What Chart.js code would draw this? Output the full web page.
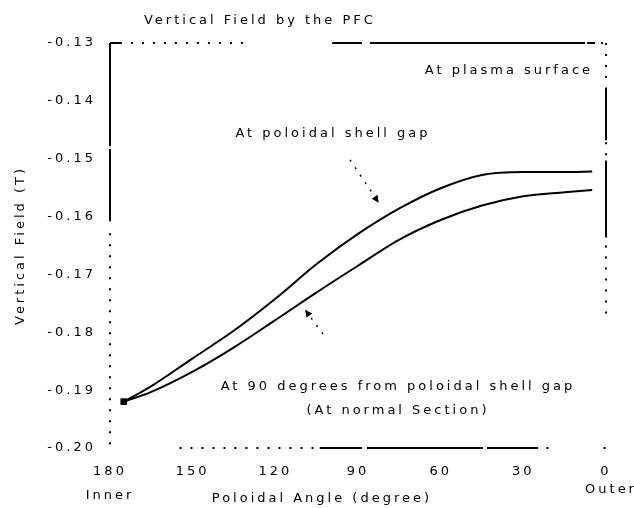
<!DOCTYPE html>
<html lang="en">
<head>
  <meta charset="UTF-8">
  <title>Vertical Field by the PFC</title>
  <script src="https://cdn.jsdelivr.net/npm/chart.js"></script>
  <style>
    html, body { margin: 0; padding: 0; background: #fff; }
    #wrap { width: 634px; height: 508px; }
  </style>
</head>
<body>
<div id="wrap"><canvas id="chart" width="634" height="508"></canvas></div>
<script>
// poloidal angle (degree), 180 = inner side, 0 = outer side
const angles = [175, 165, 150, 135, 120, 105, 90, 75, 60, 45, 30, 15, 5];
// vertical field (T) at the poloidal shell gap
const fieldShellGap = [-0.1920, -0.1893, -0.1845, -0.1797, -0.1742, -0.1682, -0.1630, -0.1586, -0.1551, -0.1528, -0.1523, -0.1523, -0.1522];
// vertical field (T) at 90 degrees from the gap (normal section)
const fieldNormal = [-0.1920, -0.1903, -0.1868, -0.1826, -0.1779, -0.1731, -0.1685, -0.1640, -0.1606, -0.1581, -0.1565, -0.1558, -0.1554];
const xTicks = [180, 150, 120, 90, 60, 30, 0];
const yTicks = [-0.20, -0.19, -0.18, -0.17, -0.16, -0.15, -0.14, -0.13];

const FONT = 'DejaVu Sans';
const SPACING = '3px';

// texts placed in axis units
const notes = [
  { text: 'Vertical Field by the PFC', x: 125.6, y: -0.1262, align: 'center', size: 13 },
  { text: 'At plasma surface', x: 4.7, y: -0.1347, align: 'right', size: 13 },
  { text: 'At poloidal shell gap', x: 99.1, y: -0.1457, align: 'center', size: 13 },
  { text: 'At 90 degrees from poloidal shell gap', x: 75.5, y: -0.1894, align: 'center', size: 13 },
  { text: '(At normal Section)', x: 75.5, y: -0.1936, align: 'center', size: 13 },
  { text: 'Inner', x: 180, y: -0.2083, align: 'center', size: 13 },
  { text: 'Outer', x: 7.6, y: -0.2072, align: 'left', size: 13 },
  { text: 'Poloidal Angle (degree)', x: 103.1, y: -0.2088, align: 'center', size: 13 }
];

const arrows = [
  { from: [92.9, -0.1502], to: [82.5, -0.1576] },
  { from: [102.7, -0.1803], to: [109.2, -0.1761] }
];

// frame pieces as fractions of each side, scanned look (solid / dotted)
const frame = {
  top:    [[0, 0.02, 's'], [0.02, 0.28, 'd'], [0.448, 0.508, 's'], [0.524, 0.958, 's'], [0.962, 0.978, 's'], [0.99, 1, 'd']],
  right:  [[0, 0.10, 'd'], [0.11, 0.24, 's'], [0.245, 0.28, 'd'], [0.29, 0.48, 's'], [0.50, 0.68, 'd']],
  bottom: [[0.14, 0.42, 'd'], [0.423, 0.508, 's'], [0.518, 0.752, 's'], [0.76, 0.863, 's'], [0.88, 0.89, 'd'], [0.995, 1, 'd']],
  left:   [[0, 0.255, 's'], [0.262, 0.44, 's'], [0.47, 1, 'd']]
};

const spacingPlugin = {
  id: 'spacing',
  beforeInit(c) { c.ctx.letterSpacing = SPACING; },
  beforeUpdate(c) { c.ctx.letterSpacing = SPACING; },
  beforeDraw(c) {
    const ctx = c.ctx;
    ctx.letterSpacing = SPACING;
    ctx.save();
    ctx.fillStyle = '#fff';
    ctx.fillRect(0, 0, c.width, c.height);
    ctx.restore();
  }
};

const decorPlugin = {
  id: 'decor',
  afterDatasetsDraw(c) {
    const ctx = c.ctx, a = c.chartArea, xs = c.scales.x, ys = c.scales.y;
    ctx.save();
    ctx.strokeStyle = '#000';
    ctx.lineWidth = 2;
    const seg = (x1, y1, x2, y2, kind) => {
      ctx.setLineDash(kind === 'd' ? [2, 9] : []);
      ctx.beginPath(); ctx.moveTo(x1, y1); ctx.lineTo(x2, y2); ctx.stroke();
    };
    const w = a.right - a.left, h = a.bottom - a.top;
    frame.top.forEach(([s, e, k]) => seg(a.left + s * w, a.top, a.left + e * w, a.top, k));
    frame.bottom.forEach(([s, e, k]) => seg(a.left + s * w, a.bottom, a.left + e * w, a.bottom, k));
    frame.left.forEach(([s, e, k]) => seg(a.left, a.top + s * h, a.left, a.top + e * h, k));
    frame.right.forEach(([s, e, k]) => seg(a.right, a.top + s * h, a.right, a.top + e * h, k));

    // arrows
    arrows.forEach(ar => {
      const x1 = xs.getPixelForValue(ar.from[0]), y1 = ys.getPixelForValue(ar.from[1]);
      const x2 = xs.getPixelForValue(ar.to[0]), y2 = ys.getPixelForValue(ar.to[1]);
      ctx.lineWidth = 1.5;
      ctx.setLineDash([2, 7]);
      ctx.beginPath(); ctx.moveTo(x1, y1); ctx.lineTo(x2, y2); ctx.stroke();
      ctx.setLineDash([]);
      const ang = Math.atan2(y2 - y1, x2 - x1), L = 8;
      ctx.fillStyle = '#000';
      ctx.beginPath();
      ctx.moveTo(x2, y2);
      ctx.lineTo(x2 - L * Math.cos(ang - 0.45), y2 - L * Math.sin(ang - 0.45));
      ctx.lineTo(x2 - L * Math.cos(ang + 0.45), y2 - L * Math.sin(ang + 0.45));
      ctx.closePath();
      ctx.fill();
    });

    // texts
    ctx.fillStyle = '#000';
    ctx.textBaseline = 'middle';
    ctx.letterSpacing = SPACING;
    notes.forEach(n => {
      ctx.font = n.size + 'px "' + FONT + '"';
      ctx.textAlign = n.align;
      ctx.fillText(n.text, xs.getPixelForValue(n.x), ys.getPixelForValue(n.y));
    });
    ctx.restore();
  }
};

const lineStyle = {
  borderColor: '#000',
  backgroundColor: '#000',
  borderWidth: 2,
  pointStyle: 'rect',
  pointRadius: ctx => ctx.dataIndex === 0 ? 3 : 0,
  cubicInterpolationMode: 'monotone',
  fill: false
};

new Chart(document.getElementById('chart').getContext('2d'), {
  type: 'line',
  data: {
    labels: angles,
    datasets: [
      Object.assign({ label: 'At poloidal shell gap', data: angles.map((a, i) => ({ x: a, y: fieldShellGap[i] })) }, lineStyle),
      Object.assign({ label: 'At 90 degrees from poloidal shell gap', data: angles.map((a, i) => ({ x: a, y: fieldNormal[i] })) }, lineStyle)
    ]
  },
  options: {
    responsive: false,
    animation: false,
    devicePixelRatio: 1,
    layout: { padding: { top: 43, right: 28, left: 0, bottom: 0 } },
    plugins: { legend: { display: false }, title: { display: false }, tooltip: { enabled: false } },
    scales: {
      x: {
        type: 'linear',
        reverse: true,
        min: 0,
        max: 180,
        grid: { display: false, drawTicks: false },
        border: { display: false },
        afterBuildTicks: s => { s.ticks = xTicks.map(v => ({ value: v })); },
        afterFit: s => { s.height = 60; },
        ticks: {
          color: '#000',
          padding: 16,
          maxRotation: 0,
          autoSkip: false,
          font: { family: FONT, size: 13 },
          callback: v => String(v)
        }
      },
      y: {
        min: -0.20,
        max: -0.13,
        grid: { display: false, drawTicks: false },
        border: { display: false },
        afterBuildTicks: s => { s.ticks = yTicks.map(v => ({ value: v })); },
        afterFit: s => { s.width = 110; },
        title: {
          display: true,
          text: 'Vertical Field (T)',
          color: '#000',
          font: { family: FONT, size: 13 },
          padding: { top: 13, bottom: 0 }
        },
        ticks: {
          color: '#000',
          padding: 14,
          autoSkip: false,
          font: { family: FONT, size: 13 },
          callback: v => v.toFixed(2)
        }
      }
    }
  },
  plugins: [spacingPlugin, decorPlugin]
});
</script>
</body>
</html>
